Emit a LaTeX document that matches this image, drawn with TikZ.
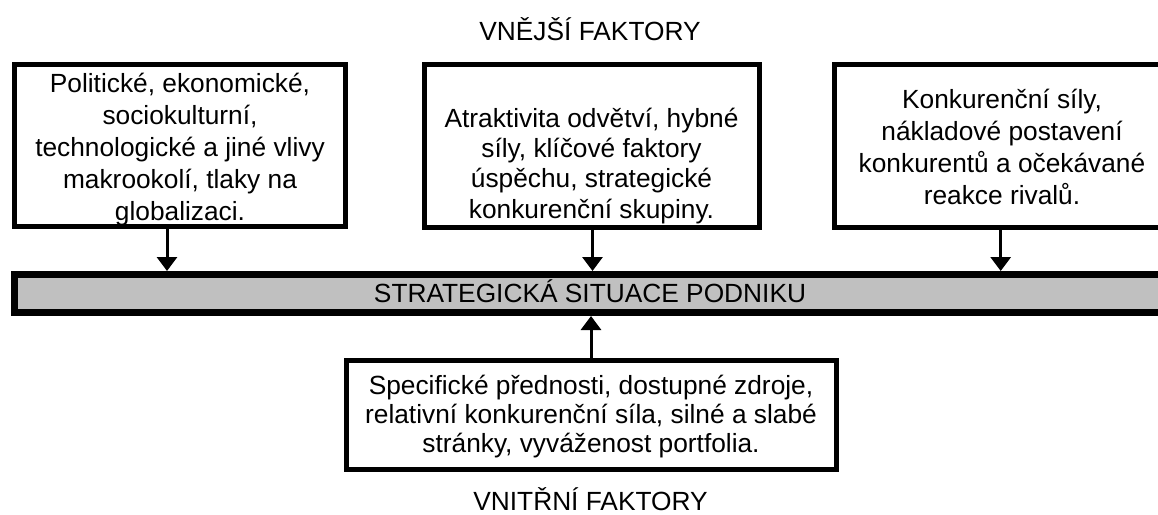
\documentclass[tikz,border=0pt]{standalone}
\usepackage{fontspec}
\setmainfont{Liberation Sans}
\usetikzlibrary{arrows.meta}
\definecolor{bargray}{RGB}{192,192,192}
\newcommand\tstr{\rule{0pt}{26pt}}
\begin{document}
\begin{tikzpicture}[x=1pt,y=-1pt,
  box/.style={draw, line width=5pt, fill=white, inner sep=0pt},
  barbox/.style={draw, line width=7pt, fill=bargray, inner sep=0pt},
  txt/.style={align=center, inner sep=0pt, anchor=north},
  lbl/.style={inner sep=0pt, anchor=base, font=\fontsize{26.3pt}{30pt}\selectfont},
  arr/.style={line width=3pt, -{Triangle[width=20pt,length=14pt]}}]
\useasboundingbox (0,0) rectangle (1158,514);

% boxes
\node[box, minimum width=331pt, minimum height=161.5pt] (b1) at (180,145.25) {};
\node[box, minimum width=335pt, minimum height=162.5pt] (b2) at (591.5,145.75) {};
\node[box, minimum width=332pt, minimum height=162.5pt] (b3) at (1000,145.75) {};
\node[barbox, minimum width=1151pt, minimum height=38pt] (bar) at (590,293.5) {};
\node[box, minimum width=490pt, minimum height=109pt] (b4) at (591,414.5) {};

% texts
\node[txt, font=\fontsize{26.3pt}{32pt}\selectfont] (t1) at (180,66) {\tstr Politické, ekonomické,\\sociokulturní,\\technologické a jiné vlivy\\makrookolí, tlaky na\\globalizaci.};
\node[txt, font=\fontsize{26.3pt}{30.3pt}\selectfont] (t2) at (591.5,101) {\tstr Atraktivita odvětví, hybné\\síly, klíčové faktory\\úspěchu, strategické\\konkurenční skupiny.};
\node[txt, font=\fontsize{26.3pt}{32pt}\selectfont] (t3) at (1002,82) {\tstr Konkurenční síly,\\nákladové postavení\\konkurentů a očekávané\\reakce rivalů.};
\node[txt, font=\fontsize{26.3pt}{29.2pt}\selectfont] (t4) at (591,368) {\tstr Specifické přednosti, dostupné zdroje,\\relativní konkurenční síla, silné a slabé\\stránky, vyváženost portfolia.};

\node[lbl] (bart) at (590,302) {STRATEGICKÁ SITUACE PODNIKU};
\node[lbl] (top) at (590,40) {VNĚJŠÍ FAKTORY};
\node[lbl] (bot) at (590.5,510) {VNITŘNÍ FAKTORY};

% arrows
\draw[arr] ([xshift=-13pt]b1.south) -- ([xshift=-13pt]b1.south |- bar.north);
\draw[arr] ([xshift=1pt]b2.south) -- ([xshift=1pt]b2.south |- bar.north);
\draw[arr] ([xshift=0.7pt]b3.south) -- ([xshift=0.7pt]b3.south |- bar.north);
\draw[arr] (b4.north) -- (b4.north |- bar.south);
\end{tikzpicture}
\end{document}
